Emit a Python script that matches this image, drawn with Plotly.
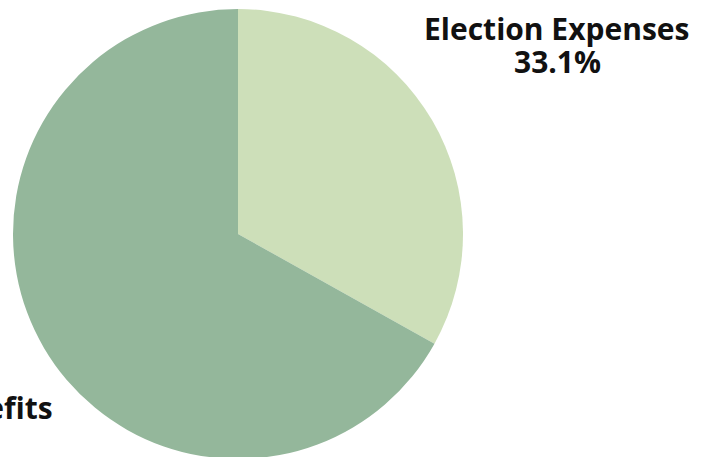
import plotly.graph_objects as go

labels = ["Election Expenses", "Salaries and Benefits"]
values = [33.1, 66.9]
colors = ["#CDDFB9", "#94B79B"]

W, H = 706, 459

fig = go.Figure()
fig.add_trace(go.Pie(
    labels=labels,
    values=values,
    sort=False,
    direction="clockwise",
    rotation=0,
    marker=dict(colors=colors, line=dict(width=0)),
    textinfo="none",
    hoverinfo="label+percent",
    showlegend=False,
    domain=dict(x=[13 / W, 463 / W], y=[0, 1 - 9 / H]),
))

font = dict(family="Open Sans", size=30, color="#111111")

# Election Expenses label (two lines, centred)
fig.add_annotation(text=f"<b>{labels[0]}</b>", xref="paper", yref="paper",
                   x=557 / W, y=1 - 28 / H, xanchor="center", yanchor="middle",
                   showarrow=False, font=font)
fig.add_annotation(text=f"<b>{values[0]:.1f}%</b>", xref="paper", yref="paper",
                   x=557 / W, y=1 - 61 / H, xanchor="center", yanchor="middle",
                   showarrow=False, font=font)

# Other slice label (name, then percentage below; mostly off the left edge)
fig.add_annotation(text=f"<b>{labels[1]}</b>", xref="paper", yref="paper",
                   x=55 / W, y=1 - 407 / H, xanchor="right", yanchor="middle",
                   showarrow=False, font=font)
fig.add_annotation(text=f"<b>{values[1]:.1f}%</b>", xref="paper", yref="paper",
                   x=-140 / W, y=1 - 440 / H, xanchor="center", yanchor="middle",
                   showarrow=False, font=font)

fig.update_layout(
    width=W, height=H,
    margin=dict(l=0, r=0, t=0, b=0),
    paper_bgcolor="white",
    plot_bgcolor="white",
)

fig.write_html(
    "out.html",
    config={"displayModeBar": False},
    post_script="document.body.style.margin='0';document.documentElement.style.overflow='hidden';document.body.style.overflow='hidden';",
)
